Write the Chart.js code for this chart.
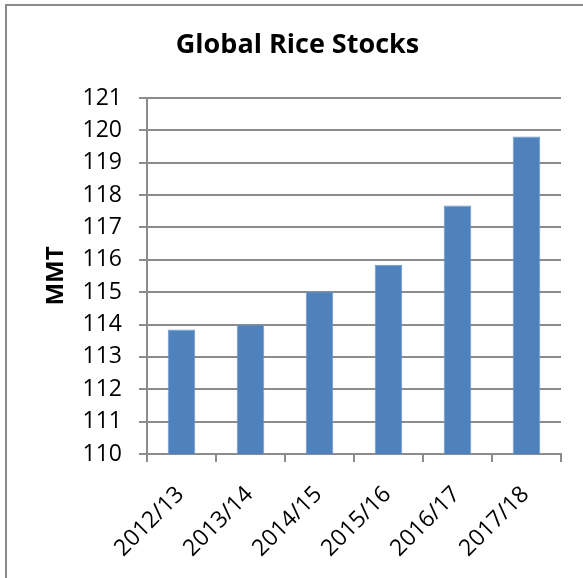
<!DOCTYPE html>
<html>
<head>
<meta charset="utf-8">
<script src="https://cdn.jsdelivr.net/npm/chart.js@4/dist/chart.umd.min.js"></script>
<style>
  html, body { margin: 0; padding: 0; background: #fff; }
  #wrap { position: relative; width: 583px; height: 578px; overflow: hidden; }
  #frame { position: absolute; left: 5px; top: 4px; width: 700px; height: 700px;
           border-left: 2px solid #8a8a8a; border-top: 2px solid #8a8a8a; }
  #chart { position: absolute; left: 0; top: 0; }
</style>
</head>
<body>
<div id="wrap">
  <div id="frame"></div>
  <canvas id="chart" width="583" height="578"></canvas>
</div>
<script>
// marketing years and ending stocks (million metric tons)
const categories = ['2012/13', '2013/14', '2014/15', '2015/16', '2016/17', '2017/18'];
const stocks = [113.85, 114.0, 115.02, 115.85, 117.68, 119.81];
const yTicks = [110, 111, 112, 113, 114, 115, 116, 117, 118, 119, 120, 121];

const fontFamily = "'Open Sans', 'Liberation Sans', sans-serif";
const gridColor = '#8c8c8c';

new Chart(document.getElementById('chart'), {
  type: 'bar',
  data: {
    labels: categories,
    datasets: [{
      data: stocks,
      backgroundColor: '#4f81bd',
      borderColor: '#6f97c9',
      borderWidth: 1,
      barPercentage: 0.4,
      categoryPercentage: 1.0
    }]
  },
  options: {
    responsive: false,
    animation: false,
    layout: { padding: { left: 12, right: 0, top: 0, bottom: 0 } },
    plugins: {
      legend: { display: false },
      tooltip: { enabled: false },
      title: {
        display: true,
        text: 'Global Rice Stocks',
        color: '#000',
        font: { family: fontFamily, size: 27, weight: 'bold' },
        padding: { top: 29, bottom: 36.6 }
      }
    },
    scales: {
      x: {
        offset: true,
        grid: {
          offset: true,
          drawOnChartArea: false,
          drawTicks: true,
          tickLength: 8,
          color: gridColor,
          lineWidth: 2
        },
        border: { color: gridColor, width: 2 },
        ticks: {
          color: '#000',
          font: { family: fontFamily, size: 23 },
          minRotation: 45,
          maxRotation: 45,
          labelOffset: -1,
          padding: 19
        },
        afterFit: function (scale) { scale.height = 124; }
      },
      y: {
        min: 110,
        max: 121,
        afterBuildTicks: function (scale) {
          scale.ticks = yTicks.map(v => ({ value: v }));
        },
        grid: {
          color: gridColor,
          lineWidth: 2,
          drawTicks: true,
          tickLength: 8
        },
        border: { color: gridColor, width: 2 },
        ticks: {
          color: '#000',
          font: { family: fontFamily, size: 23 },
          padding: 17
        },
        title: {
          display: true,
          text: 'MMT',
          color: '#000',
          font: { family: fontFamily, size: 24, weight: 'bold' },
          padding: { top: 30, bottom: 0 }
        },
        afterFit: function (scale) { scale.width = 135; }
      },
      // empty right-hand axis, only reserves the gap after the last bar
      y2: {
        position: 'right',
        grid: { display: false },
        border: { display: false },
        ticks: { display: false },
        afterFit: function (scale) { scale.width = 22; }
      }
    }
  }
});
</script>
</body>
</html>
